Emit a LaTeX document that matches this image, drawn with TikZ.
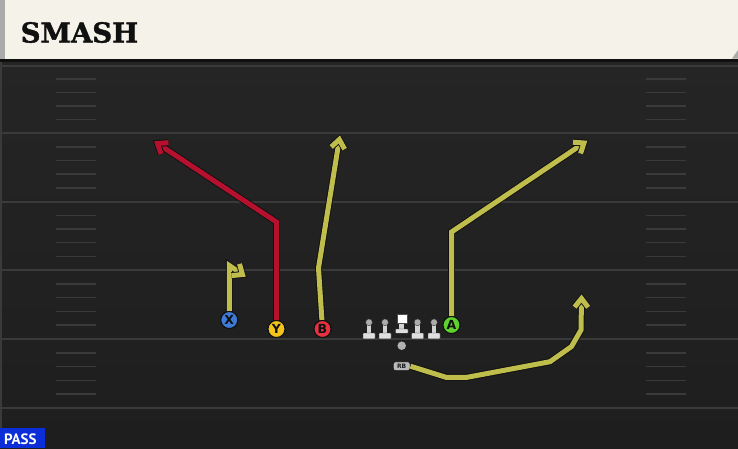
\documentclass[tikz,border=0pt]{standalone}
\usepackage{fontspec}
\setmainfont{DejaVu Sans}
\newfontfamily\titlefont[FakeBold=1.5]{DejaVu Serif}
\newfontfamily\passfont{PT Sans}
\usetikzlibrary{calc}
\definecolor{fieldtop}{HTML}{252525}
\definecolor{fieldbot}{HTML}{1E1E1E}
\definecolor{yardline}{HTML}{3A3A3A}
\definecolor{headercream}{HTML}{F5F2EA}
\definecolor{headerstrip}{HTML}{A9ABA8}
\definecolor{routeyel}{HTML}{BFBE4C}
\definecolor{routered}{HTML}{B5112F}
\definecolor{outlinedark}{HTML}{101010}
\definecolor{pblue}{HTML}{3D7BD6}
\definecolor{pyellow}{HTML}{F2C31B}
\definecolor{pred}{HTML}{E5323E}
\definecolor{pgreen}{HTML}{5FD12C}
\definecolor{passblue}{HTML}{0B2ED8}
\tikzset{
  yardstroke/.style={draw=yardline, line width=2pt},
  hashstroke/.style={draw=yardline, line width=1.6pt},
  routebase/.style={line width=5pt, line join=miter, line cap=butt,
    preaction={draw=outlinedark, line width=6.8pt}},
  yroute/.style={routebase, draw=routeyel},
  rroute/.style={routebase, draw=routered},
  player/.style={circle, minimum size=17pt, inner sep=0pt, draw=outlinedark,
    line width=1pt, font=\bfseries\fontsize{12.5}{12.5}\selectfont, text=outlinedark},
  lineheadstyle/.style={fill=gray!65, draw=gray!40!black, line width=0.4pt},
  linebodystyle/.style={fill=gray!35, draw=none},
  linebasestyle/.style={fill=gray!25, draw=gray!40!black, line width=0.4pt, rounded corners=0.5pt},
}
\begin{document}
\begin{tikzpicture}[x=1pt, y=-1pt]
\useasboundingbox (0,0) rectangle (738,448);
% field
\shade[top color=fieldtop, bottom color=fieldbot] (0,58) rectangle (738,448);
\fill[yardline] (0,58) rectangle (2,448);
% yard lines
\foreach \yy in {65.7,133,201.7,270,339,408}{
  \draw[yardstroke] (2,\yy) -- (738,\yy);
}
% hash marks
\foreach \ya/\yb in {65.7/133,133/201.7,201.7/270,270/339,339/408}{
  \foreach \f in {0.2,0.4,0.6,0.8}{
    \draw[hashstroke] (56,{\ya+\f*(\yb-\ya)}) -- (96,{\ya+\f*(\yb-\ya)});
    \draw[hashstroke] (646,{\ya+\f*(\yb-\ya)}) -- (686,{\ya+\f*(\yb-\ya)});
  }
}
% header
\fill[headercream] (0,0) rectangle (738,58.5);
\fill[headerstrip] (0,0) rectangle (5,58.5);
\fill[outlinedark] (0,58.5) rectangle (738,62);
\fill[headerstrip] (732,58.5) -- (738,50) -- (738,58.5) -- cycle;
\node[anchor=base west, inner sep=0pt, text=outlinedark,
  font=\titlefont\bfseries\fontsize{27.5}{27.5}\selectfont] (title) at (20.5,42.5) {SMASH};
% PASS badge
\fill[passblue] (0,428) rectangle (45,448);
\node[anchor=base west, inner sep=0pt, text=white,
  font=\passfont\bfseries\fontsize{15}{15}\selectfont] (pass) at (4,444.3) {PASS};

% players
\node[player, fill=pblue] (X) at (229.3,320) {X};
\node[player, fill=pyellow] (Y) at (276.5,329) {Y};
\node[player, fill=pred] (B) at (322.5,329) {B};
\node[player, fill=pgreen] (A) at (451.5,325) {A};

% offensive line
\foreach \lx in {369,385,417.5,434}{
  \fill[linebodystyle] (\lx-2.3,323) rectangle (\lx+2.3,334);
  \draw[linebasestyle] (\lx-6,333) rectangle (\lx+6,338.8);
  \draw[lineheadstyle] (\lx,322.3) circle (3.4);
}
\fill[linebodystyle] (399.4,322) rectangle (404,330);
\draw[linebasestyle] (395.5,329) rectangle (408,333.2);
\node[rectangle, fill=white, draw=gray!60!black, line width=0.4pt,
  minimum width=10pt, minimum height=9pt, inner sep=0pt] (C) at (401.7,318.8) {};
\node[circle, fill=gray!60, minimum size=8.5pt, inner sep=0pt] (QB) at (401.7,345.7) {};
\node[rectangle, rounded corners=2.5pt, fill=gray!55, draw=outlinedark, line width=0.6pt,
  minimum width=17pt, minimum height=9pt, inner sep=0pt, text=gray!20!black,
  font=\bfseries\fontsize{6}{6}\selectfont] (RB) at (401.7,366.2) {RB};

% route waypoints
\coordinate (x1) at (229.3,265.5);
\coordinate (xt) at (242.5,274.5);
\coordinate (y1) at (276.5,222);
\coordinate (yt) at (157.5,143.5);
\coordinate (b1) at (318.5,268);
\coordinate (bt) at (339.3,139.5);
\coordinate (a1) at (451.5,232);
\coordinate (at) at (584,143);
\coordinate (r1) at (446,377.3);
\coordinate (r2) at (467,377.3);
\coordinate (r3) at (550,361.7);
\coordinate (r4) at (571.5,346.5);
\coordinate (r5) at (581,330);
\coordinate (rt) at (581.5,298.5);

% routes
\draw[yroute] (X) -- (x1) -- (xt);
\draw[yroute] ($(xt)!11pt!40:(x1)$) -- (xt) -- ($(xt)!11pt!-40:(x1)$);
\draw[rroute] (Y) -- (y1) -- (yt);
\draw[rroute] ($(yt)!11pt!38:(y1)$) -- (yt) -- ($(yt)!11pt!-38:(y1)$);
\draw[yroute] (B) -- (b1) -- (bt);
\draw[yroute] ($(bt)!11pt!38:(b1)$) -- (bt) -- ($(bt)!11pt!-38:(b1)$);
\draw[yroute] (A) -- (a1) -- (at);
\draw[yroute] ($(at)!11pt!38:(a1)$) -- (at) -- ($(at)!11pt!-38:(a1)$);
\draw[yroute] (RB.east) -- (r1) -- (r2) -- (r3) -- (r4) -- (r5) -- (rt);
\draw[yroute] ($(rt)!11pt!38:(r5)$) -- (rt) -- ($(rt)!11pt!-38:(r5)$);

% redraw players on top
\node[player, fill=pblue] at (X) {X};
\node[player, fill=pyellow] at (Y) {Y};
\node[player, fill=pred] at (B) {B};
\node[player, fill=pgreen] at (A) {A};
\end{tikzpicture}
\end{document}
